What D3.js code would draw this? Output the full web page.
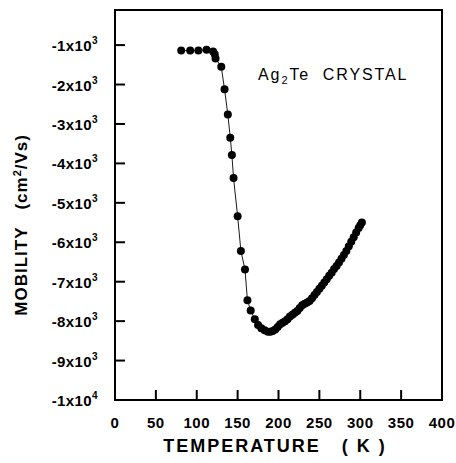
<!DOCTYPE html>
<html>
<head>
<meta charset="utf-8">
<script src="https://cdn.jsdelivr.net/npm/d3@7"></script>
<style>
  body { margin: 0; background: #fff; }
  text { font-family: "Liberation Sans", Arial, sans-serif; fill: #000; }
</style>
</head>
<body>
<div id="plot"></div>
<script>
// temperature (K) and mobility (cm2/Vs)
const temps = [81, 92, 102, 112, 120, 122, 123, 130, 134, 138, 141, 143, 145, 150, 154, 159, 162, 166, 171, 175, 179, 183, 187, 190,
  193, 196, 199, 202, 205, 208, 211, 214, 217, 220, 223, 226, 229, 232, 235, 238, 241, 244, 247, 250, 253, 256, 259, 262,
  265, 268, 271, 274, 277, 280, 283, 286, 289, 292, 295, 298, 300, 302];
const mobility = [-1140, -1140, -1140, -1115, -1160, -1230, -1340, -1550, -2120, -2760, -3350, -3790, -4370, -5340, -6220, -6690, -7470, -7730, -7950, -8100, -8180, -8230, -8270, -8270,
  -8250, -8210, -8150, -8080, -8040, -8000, -7950, -7880, -7840, -7790, -7740, -7670, -7600, -7560, -7530, -7490, -7420, -7340, -7260, -7180, -7100, -7020, -6940, -6850,
  -6770, -6680, -6600, -6510, -6420, -6320, -6220, -6100, -5990, -5870, -5750, -5640, -5570, -5500];
const xTicks = [0, 50, 100, 150, 200, 250, 300, 350, 400];
const yTicks = [-1000, -2000, -3000, -4000, -5000, -6000, -7000, -8000, -9000, -10000];
const yTickMant = ['-1', '-2', '-3', '-4', '-5', '-6', '-7', '-8', '-9', '-1'];
const yTickExp = ['3', '3', '3', '3', '3', '3', '3', '3', '3', '4'];

const data = temps.map((t, i) => ({ t: t, m: mobility[i] }));

const margin = { top: 10, right: 14, bottom: 63, left: 115 };
const width = 456 - margin.left - margin.right;
const height = 463 - margin.top - margin.bottom;

const svg = d3.select('#plot')
  .append('svg')
  .attr('width', 456)
  .attr('height', 463)
  .append('g')
  .attr('transform', `translate(${margin.left},${margin.top})`);

const x = d3.scaleLinear().domain([0, 400]).range([0, width]);
const y = d3.scaleLinear().domain([-10000, -110]).range([height, 0]);

// frame
svg.append('rect')
  .attr('x', 0).attr('y', 0)
  .attr('width', width).attr('height', height)
  .attr('fill', 'none').attr('stroke', '#000').attr('stroke-width', 2);

// inward ticks
svg.selectAll('.xtick').data(xTicks.slice(1, -1)).enter()
  .append('line')
  .attr('x1', d => x(d)).attr('x2', d => x(d))
  .attr('y1', height).attr('y2', height - 10)
  .attr('stroke', '#000').attr('stroke-width', 2);

svg.selectAll('.ytick').data(yTicks.slice(0, -1)).enter()
  .append('line')
  .attr('x1', 0).attr('x2', 10)
  .attr('y1', d => y(d)).attr('y2', d => y(d))
  .attr('stroke', '#000').attr('stroke-width', 2);

// x tick labels
svg.selectAll('.xlab').data(xTicks).enter()
  .append('text')
  .attr('x', d => x(d))
  .attr('y', height + 28)
  .attr('text-anchor', 'middle')
  .style('font-size', '15px')
  .style('font-weight', 'bold')
  .style('letter-spacing', '0.5px')
  .text(d => d);

// y tick labels with superscript
const ylab = svg.selectAll('.ylab').data(yTicks).enter()
  .append('text')
  .attr('x', -17)
  .attr('y', d => y(d) + 6)
  .attr('text-anchor', 'end')
  .style('font-size', '15px')
  .style('font-weight', 'bold')
  .style('letter-spacing', '0.4px');
ylab.append('tspan').text((d, i) => yTickMant[i] + 'x10');
ylab.append('tspan')
  .attr('dy', -7)
  .style('font-size', '10px')
  .text((d, i) => yTickExp[i]);

// connecting line
svg.append('path')
  .datum(data)
  .attr('fill', 'none')
  .attr('stroke', '#000')
  .attr('stroke-width', 0.9)
  .attr('d', d3.line().x(d => x(d.t)).y(d => y(d.m)));

// points
svg.selectAll('circle').data(data).enter()
  .append('circle')
  .attr('cx', d => x(d.t))
  .attr('cy', d => y(d.m))
  .attr('r', 4)
  .attr('fill', '#000');

// label inside
const lab = svg.append('text')
  .attr('x', 143)
  .attr('y', 70)
  .attr('xml:space', 'preserve')
  .style('font-size', '16px')
  .style('letter-spacing', '1.9px');
lab.append('tspan').text('Ag');
lab.append('tspan').attr('dy', 4).style('font-size', '11px').text('2');
lab.append('tspan').attr('dy', -4).text('Te  CRYSTAL');

// axis titles
svg.append('text')
  .attr('x', 160)
  .attr('y', height + 52)
  .attr('text-anchor', 'middle')
  .attr('xml:space', 'preserve')
  .style('font-size', '18px')
  .style('font-weight', 'bold')
  .style('letter-spacing', '2px')
  .text('TEMPERATURE   ( K )');

const yt = svg.append('text')
  .attr('transform', `translate(${-88},${y(-5000) + 22}) rotate(-90)`)
  .attr('text-anchor', 'middle')
  .attr('xml:space', 'preserve')
  .style('font-size', '17px')
  .style('font-weight', 'bold')
  .style('letter-spacing', '1px');
yt.append('tspan').text('MOBILITY   (cm');
yt.append('tspan').attr('dy', -6).style('font-size', '11px').text('2');
yt.append('tspan').attr('dy', 6).text('/Vs)');
</script>
</body>
</html>
